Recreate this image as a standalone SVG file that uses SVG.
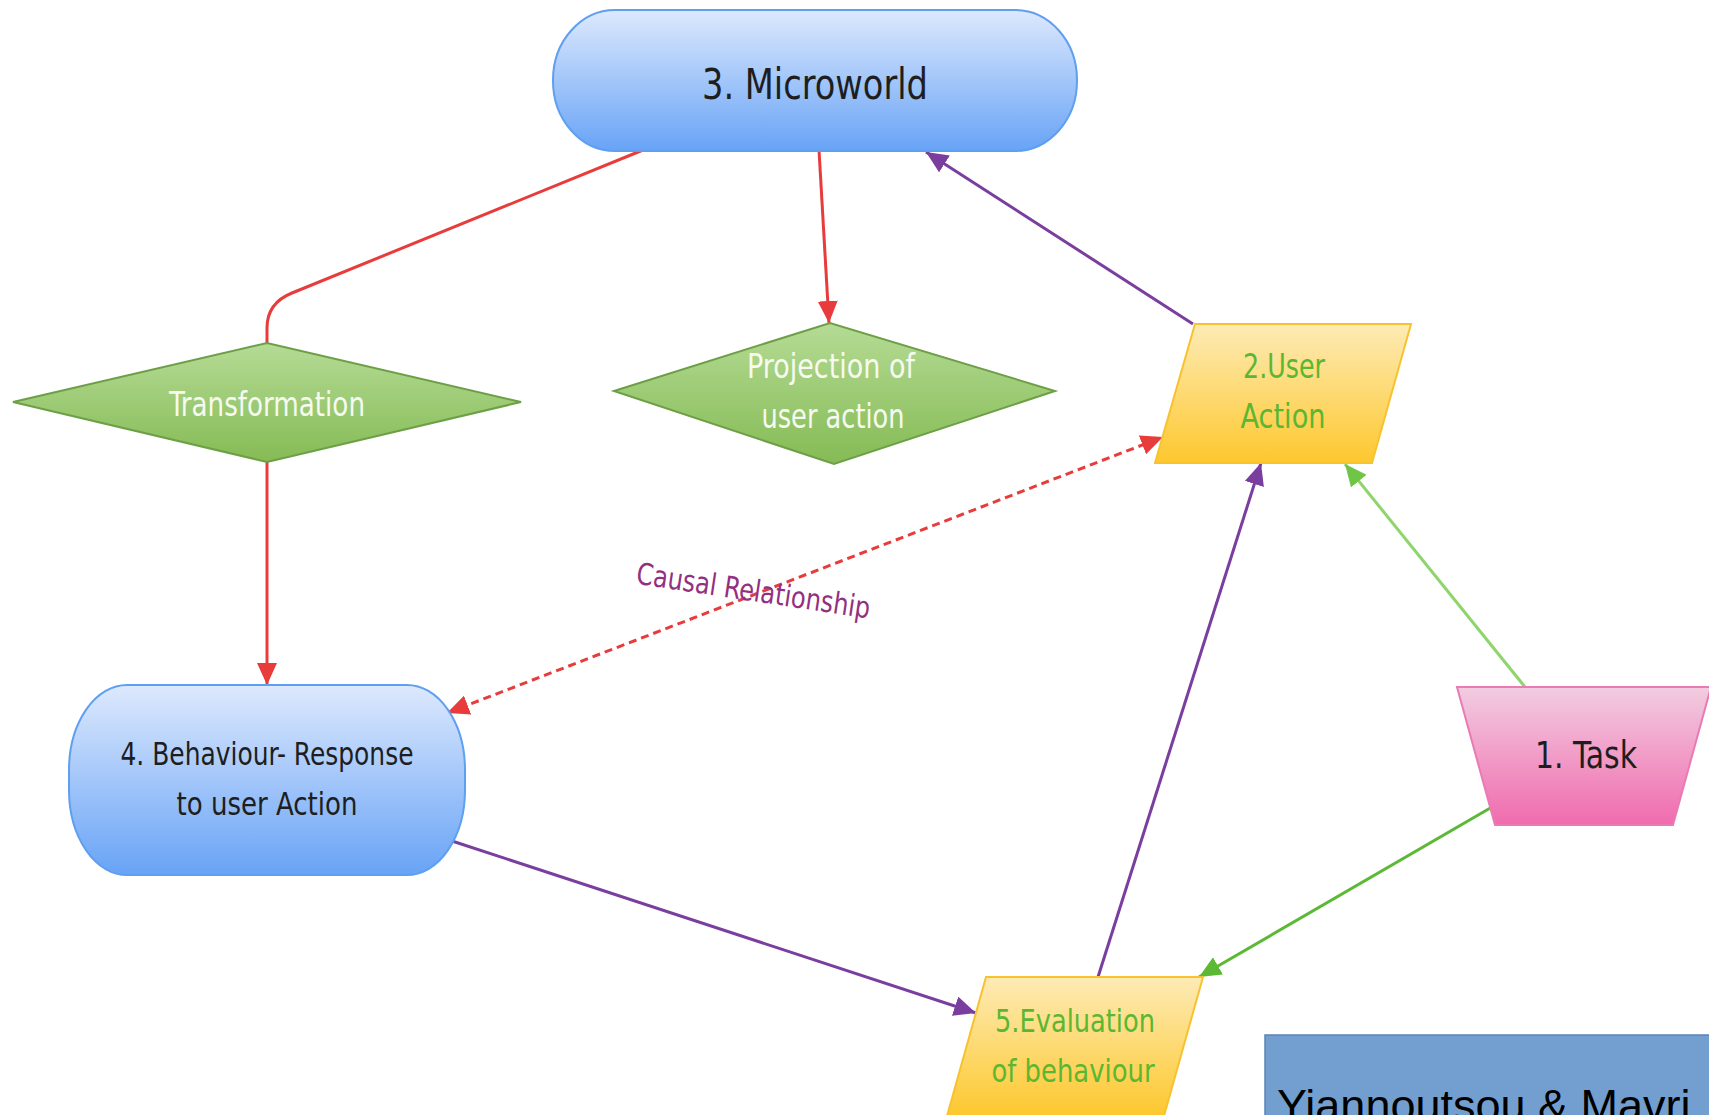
<svg xmlns="http://www.w3.org/2000/svg" width="1709" height="1115" viewBox="0 0 1709 1115">
<style>
.lbl{font-family:"DejaVu Sans Condensed","DejaVu Sans",sans-serif;font-stretch:condensed;text-anchor:middle}
.dark{fill:#1e1e1e}
.white{fill:#f6faf1}
.grn{fill:#5bb731}
.red{stroke:#e83c3c;stroke-width:3;fill:none}
.pur{stroke:#7a3e9e;stroke-width:3;fill:none}
.grnl{stroke:#5cb935;stroke-width:3;fill:none}
.grnll{stroke:#8ed56b;stroke-width:3;fill:none}
</style>
<defs>
<linearGradient id="gBlue" x1="0" y1="0" x2="0" y2="1"><stop offset="0" stop-color="#dde9fd"/><stop offset="1" stop-color="#68a3f6"/></linearGradient>
<linearGradient id="gGreen" x1="0" y1="0" x2="0" y2="1"><stop offset="0" stop-color="#b5db95"/><stop offset="1" stop-color="#85bb55"/></linearGradient>
<linearGradient id="gYellow" x1="0" y1="0" x2="0" y2="1"><stop offset="0" stop-color="#fdebb6"/><stop offset="1" stop-color="#fdc82e"/></linearGradient>
<linearGradient id="gPink" x1="0" y1="0" x2="0" y2="1"><stop offset="0" stop-color="#f2cde1"/><stop offset="1" stop-color="#f06bae"/></linearGradient>
<marker id="aRed" markerUnits="userSpaceOnUse" markerWidth="22" markerHeight="20" refX="22" refY="10" orient="auto"><path d="M0,0 L22,10 L0,20 z" fill="#e83c3c"/></marker>
<marker id="aRedS" markerUnits="userSpaceOnUse" markerWidth="22" markerHeight="20" refX="0" refY="10" orient="auto"><path d="M22,0 L0,10 L22,20 z" fill="#e83c3c"/></marker>
<marker id="aPur" markerUnits="userSpaceOnUse" markerWidth="22" markerHeight="20" refX="22" refY="10" orient="auto"><path d="M0,0 L22,10 L0,20 z" fill="#7a3e9e"/></marker>
<marker id="aGrn" markerUnits="userSpaceOnUse" markerWidth="22" markerHeight="20" refX="22" refY="10" orient="auto"><path d="M0,0 L22,10 L0,20 z" fill="#5cb935"/></marker>
<marker id="aGrnL" markerUnits="userSpaceOnUse" markerWidth="22" markerHeight="20" refX="22" refY="10" orient="auto"><path d="M0,0 L22,10 L0,20 z" fill="#6fc646"/></marker>
</defs>
<rect width="1709" height="1115" fill="#ffffff"/>

<g id="connectors">
<path class="red" d="M643,150 L292,293 Q267,303 267,328 L267,343"/>
<path class="red" d="M267,462 L267,685" marker-end="url(#aRed)"/>
<path class="red" d="M819,150 L829,323" marker-end="url(#aRed)"/>
<path class="red" d="M447,713 L1163,437" stroke-dasharray="8,5" marker-start="url(#aRedS)" marker-end="url(#aRed)"/>
<path class="pur" d="M1193,324 L926,152" marker-end="url(#aPur)"/>
<path class="pur" d="M452,841 L976,1013" marker-end="url(#aPur)"/>
<path class="pur" d="M1098,977 L1261,463" marker-end="url(#aPur)"/>
<path class="grnll" d="M1525,687 L1345,464" marker-end="url(#aGrnL)"/>
<path class="grnl" d="M1492,807 L1199,977" marker-end="url(#aGrn)"/>
<text class="lbl" transform="translate(752,601) rotate(8.5)" font-size="30" fill="#93307f" textLength="236" lengthAdjust="spacingAndGlyphs">Causal Relationship</text>
</g>

<g id="node-microworld">
<rect x="553" y="10" width="524" height="141" rx="62" ry="70" fill="url(#gBlue)" stroke="#5f9ff0" stroke-width="2"/>
<text class="lbl dark" x="815" y="99" font-size="43" textLength="226" lengthAdjust="spacingAndGlyphs">3. Microworld</text>
</g>

<g id="node-transformation">
<polygon points="13,402 267,343 521,402 267,462" fill="url(#gGreen)" stroke="#6d9f46" stroke-width="2"/>
<text class="lbl white" x="267" y="416" font-size="33" textLength="196" lengthAdjust="spacingAndGlyphs">Transformation</text>
</g>

<g id="node-projection">
<polygon points="614,391 830,323 1055,391 834,464" fill="url(#gGreen)" stroke="#6d9f46" stroke-width="2"/>
<text class="lbl white" x="831" y="378" font-size="33" textLength="168" lengthAdjust="spacingAndGlyphs">Projection of</text>
<text class="lbl white" x="833" y="428" font-size="33" textLength="143" lengthAdjust="spacingAndGlyphs">user action</text>
</g>

<g id="node-user-action">
<polygon points="1195,324 1411,324 1372,463 1155,463" fill="url(#gYellow)" stroke="#f8c22f" stroke-width="2"/>
<text class="lbl grn" x="1284" y="378" font-size="33" textLength="82" lengthAdjust="spacingAndGlyphs">2.User</text>
<text class="lbl grn" x="1283" y="428" font-size="33" textLength="85" lengthAdjust="spacingAndGlyphs">Action</text>
</g>

<g id="node-behaviour">
<rect x="69" y="685" width="396" height="190" rx="58" ry="85" fill="url(#gBlue)" stroke="#5f9ff0" stroke-width="2"/>
<text class="lbl dark" x="267" y="765" font-size="32" textLength="293" lengthAdjust="spacingAndGlyphs">4. Behaviour- Response</text>
<text class="lbl dark" x="267" y="815" font-size="32" textLength="181" lengthAdjust="spacingAndGlyphs">to user Action</text>
</g>

<g id="node-task">
<polygon points="1457,687 1711,687 1673,825 1495,825" fill="url(#gPink)" stroke="#e97ab4" stroke-width="2"/>
<text class="lbl dark" x="1586" y="768" font-size="37" textLength="102" lengthAdjust="spacingAndGlyphs">1. Task</text>
</g>

<g id="node-evaluation">
<polygon points="986,977 1203,977 1164,1116 947,1116" fill="url(#gYellow)" stroke="#f8c22f" stroke-width="2"/>
<text class="lbl grn" x="1075" y="1032" font-size="32" textLength="160" lengthAdjust="spacingAndGlyphs">5.Evaluation</text>
<text class="lbl grn" x="1073" y="1082" font-size="32" textLength="163" lengthAdjust="spacingAndGlyphs">of behaviour</text>
</g>

<g id="citation">
<rect x="1265" y="1035" width="460" height="100" fill="#729fcf" stroke="#5a84b6" stroke-width="1.5"/>
<text x="1277" y="1121" font-family="'Liberation Sans',Arial,sans-serif" font-size="45" fill="#000000">Yiannoutsou &amp; Mavri</text>
</g>
</svg>
